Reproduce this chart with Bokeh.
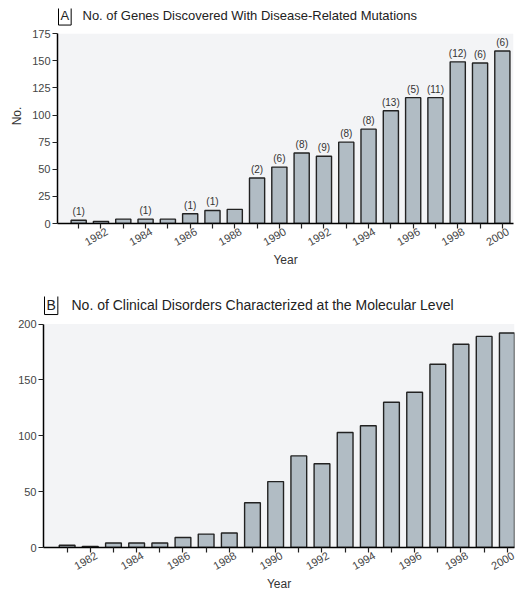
from bokeh.plotting import figure
from bokeh.layouts import column
from bokeh.models import (FixedTicker, Label, ColumnDataSource, Range1d, BoxAnnotation,
                          LinearAxis, CustomJSTickFormatter)
from bokeh.core.properties import value
from bokeh.embed import file_html
from bokeh.resources import INLINE

years = list(range(1981, 2001))
genes = [3, 2, 4, 4, 4, 9, 12, 13, 42, 52, 65, 62, 75, 87, 104, 116, 116, 149, 148, 159]
gene_notes = ["(1)", "", "", "(1)", "", "(1)", "(1)", "", "(2)", "(6)", "(8)", "(9)",
              "(8)", "(8)", "(13)", "(5)", "(11)", "(12)", "(6)", "(6)"]
disorders = [2, 1, 4, 4, 4, 9, 12, 13, 40, 59, 82, 75, 103, 109, 130, 139, 164, 182, 189, 192]
label_years = [1982, 1984, 1986, 1988, 1990, 1992, 1994, 1996, 1998, 2000]
title_a = "No. of Genes Discovered With Disease-Related Mutations"
title_b = "No. of Clinical Disorders Characterized at the Molecular Level"
gene_ticks = [0, 25, 50, 75, 100, 125, 150, 175]
dis_ticks = [0, 50, 100, 150, 200]
gene_max = 175
dis_max = 200

FONT = "Liberation Sans"
BAR_FILL = "#b1bcc4"
BG = "#f3f4f6"
LABEL_SHIFT = 0.26  # style: rotated year labels sit a little right of their tick


def base_axis_style(ax):
    ax.major_label_text_font = FONT
    ax.major_label_text_font_size = "11px"
    ax.major_label_text_color = "#444444"
    ax.axis_label_text_font = FONT
    ax.axis_label_text_font_size = "12px"
    ax.axis_label_text_font_style = "normal"
    ax.axis_label_text_color = "#333333"
    ax.minor_tick_line_color = None


def style(p, yticks, ymax):
    p.background_fill_color = "white"
    p.border_fill_color = "white"
    p.outline_line_color = None
    p.add_layout(BoxAnnotation(top=ymax, fill_color=BG, fill_alpha=1, line_color=None,
                               level="underlay"))
    p.xgrid.grid_line_color = None
    p.ygrid.grid_line_color = None

    xa = p.below[0]
    ya = p.left[0]
    for ax in (xa, ya):
        base_axis_style(ax)
        ax.axis_line_color = "black"
        ax.axis_line_width = 1.5
        ax.major_tick_line_color = "#222222"
        ax.major_tick_line_width = 1.2
        ax.major_tick_out = 5
        ax.major_tick_in = 0
    ya.ticker = FixedTicker(ticks=yticks)
    ya.bounds = (0, ymax)
    ya.major_label_standoff = 2

    # tick marks for every year, no labels
    xa.ticker = FixedTicker(ticks=years)
    xa.formatter = CustomJSTickFormatter(code="return '';")
    xa.major_label_standoff = 0

    # rotated labels for even years
    lab = LinearAxis(ticker=FixedTicker(ticks=[y + LABEL_SHIFT for y in label_years]),
                     formatter=CustomJSTickFormatter(code="return String(Math.round(tick));"))
    base_axis_style(lab)
    lab.axis_line_color = None
    lab.major_tick_line_color = None
    lab.major_tick_out = 0
    lab.major_tick_in = 0
    lab.major_label_orientation = 0.52
    lab.major_label_standoff = 2
    lab.axis_label = "Year"
    lab.axis_label_standoff = 0
    p.add_layout(lab, "below")


def add_title(p, letter, text, x0, ytitle, box_off, gap, size):
    p.add_layout(Label(x=x0, y=ytitle, text=letter, x_offset=box_off,
                       text_font=FONT, text_font_size=size, text_baseline="middle",
                       text_color="#222222",
                       border_line_color="black", border_line_width=1, padding=2))
    p.add_layout(Label(x=x0, y=ytitle, text=text, x_offset=gap,
                       text_font=FONT, text_font_size=size, text_baseline="middle",
                       text_color="#222222"))


# Chart A
xa_rng = (1980.05, 2000.5)
pa = figure(frame_width=456, frame_height=215, output_backend="svg", toolbar_location=None,
            x_range=Range1d(*xa_rng), y_range=Range1d(0, 198.2), frame_align=False,
            min_border_left=57, min_border_right=13, min_border_top=8, min_border_bottom=67)
src_a = ColumnDataSource(dict(x=years, top=genes, note=gene_notes))
pa.vbar(x="x", top="top", width=0.68, bottom=0, source=src_a, fill_color=BAR_FILL,
        line_color="#222222", line_width=1.4)
pa.text(x="x", y="top", text="note", source=src_a, text_align="center", text_baseline="bottom",
        y_offset=-3, text_font_size="10px", text_color="#333333", text_font=value(FONT))
style(pa, gene_ticks, gene_max)
pa.left[0].axis_label = "No."
add_title(pa, "A", title_a, xa_rng[0], 191.7, 1, 25, "13px")

# Chart B
xb_rng = (1979.98, 2000.31)
pb = figure(frame_width=471, frame_height=251, output_backend="svg", toolbar_location=None,
            x_range=Range1d(*xb_rng), y_range=Range1d(0, 224.7), frame_align=False,
            min_border_left=43, min_border_right=12, min_border_top=6, min_border_bottom=44)
src_b = ColumnDataSource(dict(x=years, top=disorders))
pb.vbar(x="x", top="top", width=0.68, bottom=0, source=src_b, fill_color=BAR_FILL,
        line_color="#222222", line_width=1.4)
style(pb, dis_ticks, dis_max)
add_title(pb, "B", title_b, xb_rng[0], 217.5, 1, 28, "14px")

layout = column(pa, pb, spacing=0)
open("out.html", "w").write(file_html(layout, INLINE))
